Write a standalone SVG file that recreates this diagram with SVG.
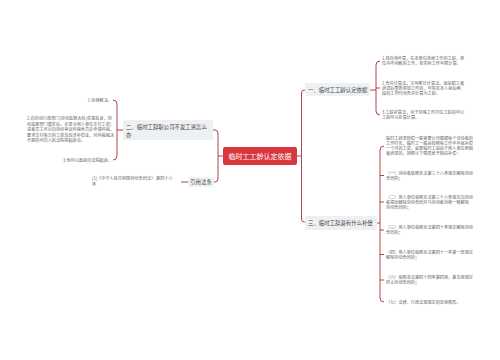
<svg xmlns="http://www.w3.org/2000/svg" width="500" height="360" viewBox="0 0 500 360">
<style>
text{font-family:"Noto Sans CJK SC","Noto Sans",sans-serif}
.conn{fill:none;stroke:#a83238;stroke-width:0.9}
.box{fill:#eef1f4}
.lbl{font-size:5.4px;fill:#444}
.sm{font-size:4.15px;fill:#606060}
</style>
<rect width="500" height="360" fill="#ffffff"/>
<g id="connectors">
<path class="conn" d="M297,156 H301.5"/>
<path class="conn" d="M305,90 H304.5 Q301.5,90 301.5,93 V219 Q301.5,222 304.5,222 H305"/>
<path class="conn" d="M223,156 H218"/>
<path class="conn" d="M213,130 H215 Q218,130 218,133 V179 Q218,182 215,182 H214"/>
<path class="conn" d="M123,130 H117"/>
<path class="conn" d="M113,100 Q117,100 117,104 V156 Q117,160 113,160"/>
<path class="conn" d="M370,90 H376"/>
<path class="conn" d="M380,61 Q376,61 376,65 V111 Q376,115 380,115"/>
<path class="conn" d="M376,88 H380"/>
<path class="conn" d="M377,223 H380"/>
<path class="conn" d="M384,146 Q380,146 380,150 V298 Q380,302 384,302"/>
<path class="conn" d="M380,175.5 H384 M380,202 H384 M380,230 H384 M380,254.5 H384 M380,280 H384"/>
<path class="conn" d="M188,182 H181"/>
</g>
<g id="center">
<rect x="223" y="147" width="74" height="18" rx="2" fill="#d9363e"/>
<text x="260" y="158.5" text-anchor="middle" font-size="7" fill="#ffffff">临时工工龄认定依据</text>
</g>
<g id="node1">
<rect class="box" x="305" y="83" width="65" height="13" rx="1"/>
<text class="lbl" x="308" y="91.8">一、临时工工龄认定依据</text>
</g>
<g id="node1-c1">
<text class="sm" x="382" y="59.5">1.按自然年算，在本单位连续工作的工龄，单</text>
<text class="sm" x="382" y="64.5">位内不间断的工作，按实际工作年限计算。</text>
</g>
<g id="node1-c2">
<text class="sm" x="382" y="84.5">2.合并计算法，又叫累计计算法，就是职工被</text>
<text class="sm" x="382" y="89.5">辞退后重新参加工作的，可将其本人前后两</text>
<text class="sm" x="382" y="94.5">段的工作时间合并计算为工龄。</text>
</g>
<g id="node1-c3">
<text class="sm" x="382" y="113.5">3.工龄折算法，对于特殊工作岗位工龄的可以</text>
<text class="sm" x="382" y="118.5">工龄可以折算计算。</text>
</g>
<g id="node2">
<rect class="box" x="123" y="120" width="90" height="20" rx="1"/>
<text class="lbl" x="126" y="128.5" font-size="5.6">二、临时工辞职公司不发工资怎么</text>
<text class="lbl" x="126" y="136.5" font-size="5.6">办</text>
</g>
<g id="node2-c1">
<text class="sm" x="112" y="101.5" text-anchor="end">1.协商解决。</text>
</g>
<g id="node2-c2">
<text class="sm" x="27" y="120">2.向劳动行政部门(劳动监察大队)举报投诉，劳</text>
<text class="sm" x="27" y="125.5">动监察部门查实后，会责令用人单位支付工资；</text>
<text class="sm" x="27" y="131">或者员工可以向劳动争议仲裁委员会申请仲裁，</text>
<text class="sm" x="27" y="136.5">要求支付拖欠的工资及经济补偿金，对仲裁裁决</text>
<text class="sm" x="27" y="142">不服的可向人民法院提起诉讼。</text>
</g>
<g id="node2-c3">
<text class="sm" x="112" y="161.5" text-anchor="end">3.也可以直接向法院起诉。</text>
</g>
<g id="node4">
<rect class="box" x="188" y="177" width="26" height="10" rx="1"/>
<text class="lbl" x="201" y="183.9" text-anchor="middle" font-size="5.2">引用法条</text>
</g>
<g id="node4-c1">
<text class="sm" x="92" y="180">[1]《中华人民共和国劳动合同法》 第四十六</text>
<text class="sm" x="92" y="185.5">条</text>
</g>
<g id="node3">
<rect class="box" x="305" y="216" width="72" height="14" rx="1"/>
<text class="lbl" x="308" y="224.9" font-size="5.5">三、临时工辞退有什么补偿</text>
</g>
<g id="node3-c0">
<text class="sm" x="386" y="139.5">临时工辞退赔偿一般需要公司根据每个劳动者的</text>
<text class="sm" x="386" y="144.5">工作时长，临时工一般是按照每工作半年就补偿</text>
<text class="sm" x="386" y="149.5">一个月的工资，如果临时工是由于用人单位原因</text>
<text class="sm" x="386" y="154.5">被辞退的，按照以下情形给予相应补偿：</text>
</g>
<g id="node3-c1">
<text class="sm" x="386" y="174.5">（一）劳动者依照本法第三十八条规定解除劳动</text>
<text class="sm" x="386" y="179.5">合同的；</text>
</g>
<g id="node3-c2">
<text class="sm" x="386" y="198.5">（二）用人单位依照本法第三十六条规定向劳动</text>
<text class="sm" x="386" y="203.5">者提出解除劳动合同并与劳动者协商一致解除</text>
<text class="sm" x="386" y="208.5">劳动合同的；</text>
</g>
<g id="node3-c3">
<text class="sm" x="386" y="228.5">（三）用人单位依照本法第四十条规定解除劳动</text>
<text class="sm" x="386" y="233.5">合同的；</text>
</g>
<g id="node3-c4">
<text class="sm" x="386" y="253.5">（四）用人单位依照本法第四十一条第一款规定</text>
<text class="sm" x="386" y="258.5">解除劳动合同的；</text>
</g>
<g id="node3-c6">
<text class="sm" x="386" y="278.5">（六）依照本法第四十四条第四项、第五项规定</text>
<text class="sm" x="386" y="283.5">终止劳动合同的；</text>
</g>
<g id="node3-c7">
<text class="sm" x="386" y="303.5">（七）法律、行政法规规定的其他情形。</text>
</g>
</svg>
